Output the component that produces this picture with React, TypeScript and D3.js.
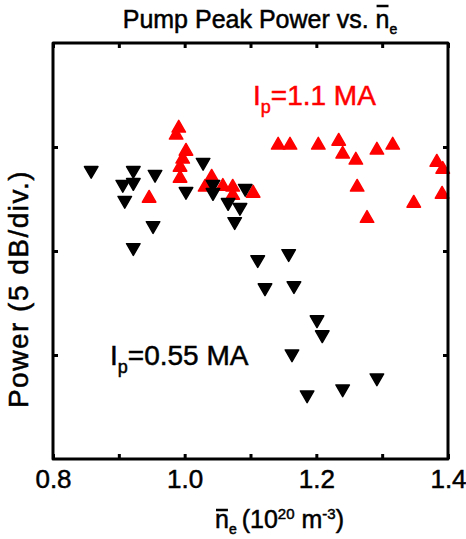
import React, { useRef, useEffect } from 'react';
import * as d3 from 'd3';

// I_p = 0.55 MA (black, down triangles): line-averaged density (1e20 m^-3), power (dB)
const lowDensity = [0.858, 0.922, 0.906, 0.922, 0.955, 0.909, 1.002, 0.952, 0.922, 1.028,
  1.043, 1.043, 1.066, 1.084, 1.076, 1.092, 1.111, 1.158, 1.122, 1.166, 1.201, 1.209,
  1.163, 1.186, 1.240, 1.292];
const lowPower = [13.78, 13.78, 13.11, 13.2, 13.59, 12.34, 12.77, 11.13, 10.07, 14.17,
  13.11, 12.72, 12.24, 12.0, 11.32, 12.92, 9.49, 9.78, 8.14, 8.24, 6.6, 5.88,
  4.96, 2.99, 3.28, 3.81];

// I_p = 1.1 MA (red, up triangles)
const highDensity = [0.991, 0.987, 1.002, 0.997, 0.993, 0.993, 0.946, 1.041, 1.031, 1.058,
  1.073, 1.073, 1.104, 1.142, 1.160, 1.203, 1.234, 1.240, 1.260, 1.292, 1.316, 1.383,
  1.392, 1.262, 1.348, 1.391, 1.277];
const highPower = [16.0, 15.66, 14.89, 14.51, 14.12, 13.59, 12.63, 13.64, 13.16, 13.2,
  13.16, 12.77, 12.87, 15.18, 15.18, 15.18, 15.37, 14.75, 14.46, 14.94, 15.18, 14.36,
  14.02, 13.16, 12.39, 12.82, 11.66];

const xTicks = [0.8, 0.9, 1.0, 1.1, 1.2, 1.3, 1.4];
const xTickLabels = ['0.8', '', '1.0', '', '1.2', '', '1.4'];
const yTicks = [5, 10, 15];

const FONT = "'Liberation Sans', Arial, Helvetica, sans-serif";

function PumpPowerChart({ width = 466, height = 539 }) {
  const svgRef = useRef(null);

  useEffect(() => {
    const root = d3.select(svgRef.current);
    root.selectAll('*').remove();

    const margin = { top: 43, right: 18, bottom: 80, left: 53 };
    const innerWidth = width - margin.left - margin.right;
    const innerHeight = height - margin.top - margin.bottom;

    const xScale = d3.scaleLinear().domain([0.8, 1.4]).range([0, innerWidth]);
    const yScale = d3.scaleLinear().domain([0, 20]).range([innerHeight, 0]);

    const svg = root.append('g')
      .attr('transform', `translate(${margin.left},${margin.top})`)
      .style('font-family', FONT);

    // Markers
    const side = 13.5;
    const area = (Math.sqrt(3) / 4) * side * side;
    const triH = (Math.sqrt(3) / 2) * side;
    const tri = d3.symbol().type(d3.symbolTriangle).size(area)();

    const highData = highDensity.map((d, i) => ({ x: d, y: highPower[i] }));
    const lowData = lowDensity.map((d, i) => ({ x: d, y: lowPower[i] }));

    svg.selectAll('.high')
      .data(highData)
      .enter()
      .append('path')
      .attr('class', 'high')
      .attr('d', tri)
      .attr('transform', d => `translate(${xScale(d.x)},${yScale(d.y) + triH / 6})`)
      .attr('fill', '#ff0000')
      .attr('stroke', '#ff0000')
      .attr('stroke-width', 1.5)
      .attr('stroke-linejoin', 'round');

    svg.selectAll('.low')
      .data(lowData)
      .enter()
      .append('path')
      .attr('class', 'low')
      .attr('d', tri)
      .attr('transform', d => `translate(${xScale(d.x)},${yScale(d.y) - triH / 6}) rotate(180)`)
      .attr('fill', '#000')
      .attr('stroke', '#000')
      .attr('stroke-width', 1.5)
      .attr('stroke-linejoin', 'round');

    // Frame with inward ticks on all four sides
    const tickLen = 5;
    const axisColor = '#000';
    const axisW = 3;

    svg.append('g')
      .attr('transform', `translate(0,${innerHeight})`)
      .call(d3.axisBottom(xScale).tickValues(xTicks).tickSizeInner(-tickLen).tickSizeOuter(0).tickFormat((d, i) => xTickLabels[i]))
      .call(g => g.select('.domain').remove())
      .call(g => g.selectAll('line').attr('stroke', axisColor).attr('stroke-width', axisW))
      .call(g => g.selectAll('text')
        .attr('y', 29)
        .attr('dy', 0)
        .style('font-size', '26px')
        .style('font-family', FONT)
        .attr('fill', '#000')
        .attr('stroke', '#000')
        .attr('stroke-width', 0.5));

    svg.append('g')
      .call(d3.axisTop(xScale).tickValues(xTicks).tickSizeInner(-tickLen).tickSizeOuter(0).tickFormat(() => ''))
      .call(g => g.select('.domain').remove())
      .call(g => g.selectAll('line').attr('stroke', axisColor).attr('stroke-width', axisW));

    svg.append('g')
      .call(d3.axisLeft(yScale).tickValues(yTicks).tickSizeInner(-tickLen).tickSizeOuter(0).tickFormat(() => ''))
      .call(g => g.select('.domain').remove())
      .call(g => g.selectAll('line').attr('stroke', axisColor).attr('stroke-width', axisW));

    svg.append('g')
      .attr('transform', `translate(${innerWidth},0)`)
      .call(d3.axisRight(yScale).tickValues(yTicks).tickSizeInner(-tickLen).tickSizeOuter(0).tickFormat(() => ''))
      .call(g => g.select('.domain').remove())
      .call(g => g.selectAll('line').attr('stroke', axisColor).attr('stroke-width', axisW));

    svg.append('rect')
      .attr('x', 0)
      .attr('y', 0)
      .attr('width', innerWidth)
      .attr('height', innerHeight)
      .attr('fill', 'none')
      .attr('stroke', axisColor)
      .attr('stroke-width', axisW)
      .attr('stroke-linejoin', 'round');

    // Title with overbar on n
    const title = svg.append('text')
      .attr('x', 207)
      .attr('y', -15)
      .attr('text-anchor', 'middle')
      .style('font-size', '25px')
      .attr('fill', '#000')
      .attr('stroke', '#000')
      .attr('stroke-width', 0.5);
    title.append('tspan').text('Pump Peak Power vs. n');
    title.append('tspan').attr('dy', 6).style('font-size', '14px').text('e');

    const overbar = (textSel, idx, offset) => {
      const node = textSel.node();
      const x0 = node.getStartPositionOfChar(idx).x;
      const x1 = node.getEndPositionOfChar(idx).x;
      const y0 = node.getStartPositionOfChar(idx).y;
      svg.append('line')
        .attr('x1', x0 + 1)
        .attr('x2', x1 - 1)
        .attr('y1', y0 - offset)
        .attr('y2', y0 - offset)
        .attr('stroke', '#000')
        .attr('stroke-width', 2.5);
    };
    overbar(title, 20, 22);

    // X-axis label
    const xLabel = svg.append('text')
      .attr('x', 162)
      .attr('y', innerHeight + 69)
      .style('font-size', '25px')
      .attr('fill', '#000')
      .attr('stroke', '#000')
      .attr('stroke-width', 0.5);
    xLabel.append('tspan').text('n');
    xLabel.append('tspan').attr('dy', 6).style('font-size', '14px').text('e');
    xLabel.append('tspan').attr('dy', -6).attr('dx', 5).text('(10');
    xLabel.append('tspan').attr('dy', -9).style('font-size', '15px').text('20');
    xLabel.append('tspan').attr('dy', 9).text(' m');
    xLabel.append('tspan').attr('dy', -9).style('font-size', '15px').text('-3');
    xLabel.append('tspan').attr('dy', 9).text(')');
    overbar(xLabel, 0, 18);

    // Y-axis label
    svg.append('text')
      .attr('transform', 'rotate(-90)')
      .attr('x', -246)
      .attr('y', -25)
      .attr('text-anchor', 'middle')
      .style('font-size', '28px')
      .style('letter-spacing', '1.5px')
      .attr('fill', '#000')
      .attr('stroke', '#000')
      .attr('stroke-width', 0.5)
      .text('Power (5 dB/div.)');

    // Series annotations
    const ann = (x, y, color, value) => {
      const t = svg.append('text')
        .attr('x', x)
        .attr('y', y)
        .style('font-size', '28px')
        .attr('fill', color)
        .attr('stroke', color)
        .attr('stroke-width', 0.5);
      t.append('tspan').text('I');
      t.append('tspan').attr('dy', 8).style('font-size', '18px').text('p');
      t.append('tspan').attr('dy', -8).text(`=${value} MA`);
    };
    ann(200, 62, '#ff0000', '1.1');
    ann(57, 322, '#000', '0.55');

  }, [width, height]);

  return (
    <svg ref={svgRef} width={width} height={height}
      style={{ position: 'absolute', left: 0, top: 0, background: '#fff' }} />
  );
}

export default function App() {
  return <PumpPowerChart />;
}
